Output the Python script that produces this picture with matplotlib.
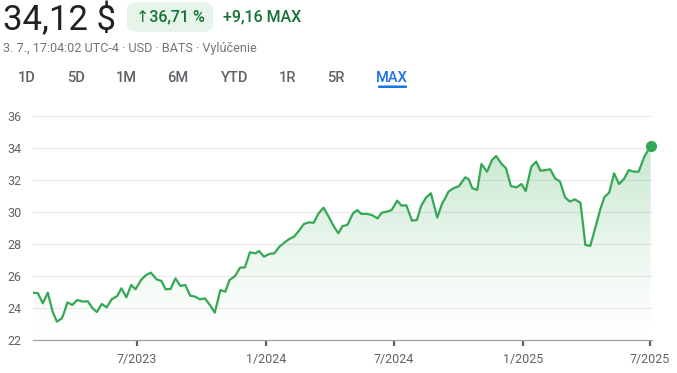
import numpy as np
import pandas as pd
import matplotlib
matplotlib.use("Agg")
import matplotlib.pyplot as plt
import matplotlib.dates as mdates
from matplotlib.patches import FancyBboxPatch, Polygon

plt.rcParams['font.family'] = ['Roboto', 'DejaVu Sans']

# price data
dates = ["2023-02-03", "2023-02-10", "2023-02-17", "2023-02-24", "2023-03-03", "2023-03-09",
         "2023-03-16", "2023-03-19", "2023-03-24", "2023-03-31", "2023-04-07", "2023-04-15",
         "2023-04-22", "2023-04-29", "2023-05-05", "2023-05-12", "2023-05-19", "2023-05-26",
         "2023-06-03", "2023-06-09", "2023-06-16", "2023-06-23", "2023-06-29", "2023-07-07",
         "2023-07-14", "2023-07-21", "2023-07-29", "2023-08-05", "2023-08-11", "2023-08-18",
         "2023-08-25", "2023-09-01", "2023-09-08", "2023-09-15", "2023-09-22", "2023-09-29",
         "2023-10-06", "2023-10-13", "2023-10-20", "2023-10-28", "2023-11-04", "2023-11-10",
         "2023-11-18", "2023-11-25", "2023-12-02", "2023-12-09", "2023-12-17", "2023-12-22",
         "2023-12-29", "2024-01-06", "2024-01-13", "2024-01-20", "2024-01-27", "2024-02-03",
         "2024-02-10", "2024-02-17", "2024-02-24", "2024-03-02", "2024-03-09", "2024-03-16",
         "2024-03-23", "2024-03-29", "2024-04-06", "2024-04-13", "2024-04-19", "2024-04-26",
         "2024-05-04", "2024-05-10", "2024-05-16", "2024-05-24", "2024-05-31", "2024-06-08",
         "2024-06-14", "2024-06-21", "2024-06-28", "2024-07-06", "2024-07-12", "2024-07-19",
         "2024-07-27", "2024-08-03", "2024-08-09", "2024-08-16", "2024-08-23", "2024-09-01",
         "2024-09-08", "2024-09-11", "2024-09-17", "2024-09-24", "2024-10-02", "2024-10-11",
         "2024-10-16", "2024-10-21", "2024-10-28", "2024-11-03", "2024-11-11", "2024-11-18",
         "2024-11-24", "2024-12-01", "2024-12-08", "2024-12-15", "2024-12-23", "2024-12-30",
         "2025-01-05", "2025-01-13", "2025-01-20", "2025-01-26", "2025-02-02", "2025-02-09",
         "2025-02-16", "2025-02-23", "2025-03-02", "2025-03-09", "2025-03-16", "2025-03-24",
         "2025-03-27", "2025-03-31", "2025-04-07", "2025-04-14", "2025-04-21", "2025-04-27",
         "2025-05-04", "2025-05-11", "2025-05-18", "2025-05-25", "2025-06-01", "2025-06-08",
         "2025-06-15", "2025-06-23", "2025-07-02"]
prices = [24.96, 24.92, 24.29, 24.96, 23.77, 23.15,
          23.35, 23.67, 24.35, 24.19, 24.50, 24.40,
          24.42, 23.98, 23.75, 24.25, 24.04, 24.54,
          24.75, 25.23, 24.67, 25.44, 25.17, 25.75,
          26.06, 26.21, 25.79, 25.69, 25.17, 25.19,
          25.85, 25.38, 25.44, 24.77, 24.71, 24.54,
          24.60, 24.19, 23.71, 25.12, 25.02, 25.75,
          26.00, 26.52, 26.54, 27.48, 27.42, 27.56,
          27.21, 27.38, 27.42, 27.83, 28.08, 28.31,
          28.46, 28.83, 29.25, 29.35, 29.33, 29.92,
          30.27, 29.81, 29.15, 28.67, 29.12, 29.19,
          29.92, 30.12, 29.88, 29.88, 29.81, 29.60,
          29.96, 30.02, 30.12, 30.71, 30.40, 30.42,
          29.46, 29.50, 30.38, 30.90, 31.17, 29.65,
          30.54, 30.75, 31.27, 31.48, 31.62, 32.17,
          32.04, 31.48, 31.38, 33.00, 32.52, 33.25,
          33.50, 33.04, 32.73, 31.62, 31.54, 31.75,
          31.31, 32.83, 33.15, 32.58, 32.62, 32.67,
          32.10, 31.90, 30.92, 30.65, 30.79, 30.58,
          29.50, 27.94, 27.88, 28.98, 30.12, 30.92,
          31.21, 32.42, 31.75, 32.06, 32.62, 32.52,
          32.52, 33.46, 34.12]

yticks = [22, 24, 26, 28, 30, 32, 34, 36]
xtick_dates = ["2023-07-01", "2024-01-01", "2024-07-01", "2025-01-01", "2025-07-01"]
xtick_labels = ["7/2023", "1/2024", "7/2024", "1/2025", "7/2025"]
periods = ["1D", "5D", "1M", "6M", "YTD", "1R", "5R", "MAX"]
period_x = [26.5, 76.5, 126.5, 178, 235, 288, 335.5, 392]

W, H = 677, 373
green = "#34a853"
fig = plt.figure(figsize=(W / 100, H / 100), dpi=100)

x = mdates.date2num(pd.to_datetime(dates))
y = np.array(prices)

ax = fig.add_axes([33 / W, 1 - 340 / H, (652 - 33) / W, (340 - 116) / H])
ax.set_xlim(mdates.date2num(pd.Timestamp("2023-02-03")), mdates.date2num(pd.Timestamp("2025-07-04")))
ax.set_ylim(22, 36)

# gradient fill under the line
grad = np.linspace(0.0, 1.0, 256).reshape(-1, 1)
rgba = np.zeros((256, 1, 4))
rgba[:, 0, :3] = matplotlib.colors.to_rgb(green)
rgba[:, 0, 3] = 0.30 * grad[:, 0] ** 1.3
xmin, xmax = ax.get_xlim()
im = ax.imshow(rgba, extent=[xmin, xmax, 22, 35], origin="lower", aspect="auto", zorder=1)
poly = Polygon(np.column_stack([np.r_[x[0], x, x[-1]], np.r_[22, y, 22]]), closed=True,
               facecolor="none", edgecolor="none", transform=ax.transData)
ax.add_patch(poly)
im.set_clip_path(poly)

ax.plot(x, y, color=green, lw=1.6, zorder=3, solid_joinstyle="round")
ax.plot(x[-1], y[-1], "o", color=green, ms=7, zorder=4, clip_on=False)

ax.set_yticks(yticks)
ax.set_yticklabels([str(t) for t in yticks])
ax.set_xticks(mdates.date2num(pd.to_datetime(xtick_dates)))
ax.set_xticklabels(xtick_labels)
for t in yticks[1:]:
    ax.axhline(t, color="#ebebeb", lw=0.9, zorder=0, clip_on=False)
for s in ["top", "right", "left"]:
    ax.spines[s].set_visible(False)
ax.spines["bottom"].set_color("#9aa0a6")
ax.spines["bottom"].set_linewidth(0.9)
ax.tick_params(axis="y", length=0, pad=8, labelsize=9, labelcolor="#5f6368")
ax.tick_params(axis="x", length=4, width=1.6, color="#5f6368", pad=5, labelsize=9, labelcolor="#5f6368")

# header
fig.text(3 / W, 1 - 30 / H, "34,12 $", fontsize=25, color="#202124", va="baseline", ha="left")
badge = FancyBboxPatch((127 / W, 1 - 32 / H), 86 / W, 30 / H,
                       boxstyle="round,pad=0,rounding_size=0.018", transform=fig.transFigure,
                       facecolor="#e6f4ea", edgecolor="none")
fig.patches.append(badge)
fig.text(170 / W, 1 - 17 / H, "↑36,71 %", fontsize=11.5, color="#137333", fontweight="medium",
         va="center", ha="center", family=["Roboto", "DejaVu Sans"])
fig.text(223 / W, 1 - 17 / H, "+9,16 MAX", fontsize=11.5, color="#137333", fontweight="medium",
         va="center", ha="left")
fig.text(3 / W, 1 - 52 / H, "3. 7., 17:04:02 UTC-4 · USD · BATS · Vylúčenie", fontsize=9.1,
         color="#70757a", va="baseline", ha="left")

for p, px in zip(periods, period_x):
    c = "#1a73e8" if p == "MAX" else "#5f6368"
    fig.text(px / W, 1 - 82 / H, p, fontsize=10.5, color=c, fontweight="medium",
             va="baseline", ha="center")
fig.patches.append(FancyBboxPatch((378 / W, 1 - 88 / H), 29 / W, 2.5 / H,
                                  boxstyle="round,pad=0,rounding_size=0.002",
                                  transform=fig.transFigure, facecolor="#1a73e8", edgecolor="none"))

fig.savefig("out.png", dpi=100)
